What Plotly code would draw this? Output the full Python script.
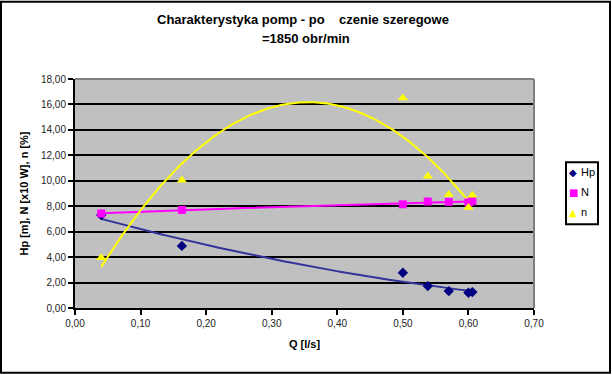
import numpy as np
import plotly.graph_objects as go

# Data
Q = [0.04, 0.163, 0.50, 0.538, 0.57, 0.60, 0.606]
Hp = [7.3, 4.88, 2.77, 1.72, 1.33, 1.2, 1.25]
N = [7.43, 7.71, 8.15, 8.37, 8.34, 8.3, 8.4]
n = [3.95, 10.05, 16.5, 10.35, 8.92, 7.9, 8.86]

y_ticks = [0, 2, 4, 6, 8, 10, 12, 14, 16, 18]
x_ticks = [0.0, 0.1, 0.2, 0.3, 0.4, 0.5, 0.6, 0.7]

title_line1 = "Charakterystyka pomp - po\u00a0\u00a0\u00a0\u00a0czenie szeregowe"
title_line2 = "=1850 obr/min"
x_title = "Q [l/s]"
y_title = "Hp [m], N [x10 W], n [%]"
series_names = ["Hp", "N", "n"]

# Trendlines (polynomial fits like the spreadsheet trendlines)
xs = np.linspace(min(Q), max(Q), 200)
fit_hp = np.polyval(np.polyfit(Q, Hp, 2), xs)
fit_n_pow = np.polyval(np.polyfit(Q, N, 2), xs)
fit_eff = np.polyval(np.polyfit(Q, n, 2), xs)

C_HP = "#000080"
C_HP_LINE = "#333399"
C_N = "#FF00FF"
C_EFF = "#FFFF00"
FONT = "Liberation Sans, Arial, sans-serif"

fig = go.Figure()
fig.add_trace(go.Scatter(x=xs, y=fit_hp, mode="lines", line=dict(color=C_HP_LINE, width=2), showlegend=False, hoverinfo="skip"))
fig.add_trace(go.Scatter(x=xs, y=fit_n_pow, mode="lines", line=dict(color=C_N, width=2), showlegend=False, hoverinfo="skip"))
fig.add_trace(go.Scatter(x=xs, y=fit_eff, mode="lines", line=dict(color=C_EFF, width=2), showlegend=False, hoverinfo="skip"))

fig.add_trace(go.Scatter(x=Q, y=Hp, mode="markers", name="Hp", showlegend=False,
                         marker=dict(symbol="diamond", color=C_HP, size=8, line=dict(width=0))))
fig.add_trace(go.Scatter(x=Q, y=N, mode="markers", name="N", showlegend=False,
                         marker=dict(symbol="square", color=C_N, size=8, line=dict(width=0))))
fig.add_trace(go.Scatter(x=Q, y=n, mode="markers", name="n", showlegend=False,
                         marker=dict(symbol="triangle-up", color=C_EFF, size=9, line=dict(width=0))))

L, R, T, B = 75, 78, 78.5, 67
W, H = 612, 375
pw, ph = W - L - R, H - T - B

def px_x(p):
    return (p - L) / pw

def px_y(p):
    return (H - B - p) / ph

# Manual legend (box, symbols and labels)
legend_syms = ["\u25C6", "\u25A0", "\u25B2"]
legend_cols = [C_HP, C_N, C_EFF]
legend_ys = [172, 192, 212]
annotations = []
for name, sym, col, yy in zip(series_names, legend_syms, legend_cols, legend_ys):
    annotations.append(dict(x=px_x(573), y=px_y(yy), xref="paper", yref="paper",
                            text=sym, showarrow=False, xanchor="center", yanchor="middle",
                            font=dict(family="DejaVu Sans", size=10, color=col)))
    annotations.append(dict(x=px_x(579), y=px_y(yy), xref="paper", yref="paper",
                            text=name, showarrow=False, xanchor="left", yanchor="middle",
                            font=dict(family=FONT, size=11, color="black")))

# Title
annotations.append(dict(x=px_x(303), y=px_y(19), xref="paper", yref="paper",
                        text="<b>" + title_line1 + "</b>", showarrow=False,
                        xanchor="center", yanchor="middle",
                        font=dict(family=FONT, size=13, color="black")))
annotations.append(dict(x=px_x(306), y=px_y(38), xref="paper", yref="paper",
                        text="<b>" + title_line2 + "</b>", showarrow=False,
                        xanchor="center", yanchor="middle",
                        font=dict(family=FONT, size=13, color="black")))

fig.update_layout(
    width=W, height=H,
    margin=dict(l=L, r=R, t=T, b=B, pad=0),
    paper_bgcolor="white",
    plot_bgcolor="#C0C0C0",
    separators=", ",
    font=dict(family=FONT, color="black", size=10),
    showlegend=False,
    annotations=annotations,
    xaxis=dict(range=[0, 0.7], tickvals=x_ticks, tickformat=".2f",
               showgrid=False, zeroline=False,
               showline=True, linecolor="black", linewidth=2,
               ticks="outside", ticklen=5, tickwidth=1.5, tickcolor="black",
               tickfont=dict(size=10, color="#222222"),
               title=dict(text="<b>" + x_title + "</b>", font=dict(size=11), standoff=12)),
    yaxis=dict(range=[0, 18], tickvals=y_ticks, tickformat=".2f",
               showgrid=True, gridcolor="black", gridwidth=2,
               zeroline=False,
               showline=True, linecolor="black", linewidth=2,
               ticks="outside", ticklen=5, tickwidth=1.5, tickcolor="black",
               tickfont=dict(size=10, color="#222222"),
               title=dict(text="<b>" + y_title + "</b>", font=dict(size=11), standoff=10)),
    shapes=[
        dict(type="line", xref="paper", yref="paper", x0=0, x1=1, y0=1, y1=1,
             line=dict(color="#808080", width=2), layer="above"),
        dict(type="line", xref="paper", yref="paper", x0=1, x1=1, y0=0, y1=1,
             line=dict(color="#808080", width=2), layer="above"),
        dict(type="rect", xref="paper", yref="paper",
             x0=px_x(566), x1=px_x(598), y0=px_y(224), y1=px_y(162),
             line=dict(color="black", width=2), fillcolor="white"),
        dict(type="rect", xref="paper", yref="paper",
             x0=px_x(1), x1=px_x(610), y0=px_y(373), y1=px_y(1),
             line=dict(color="black", width=2), fillcolor="rgba(0,0,0,0)"),
    ],
)

fig.write_html("out.html", config={"displayModeBar": False},
               post_script="document.body.style.margin='0';document.body.style.padding='0';document.body.style.overflow='hidden';")
